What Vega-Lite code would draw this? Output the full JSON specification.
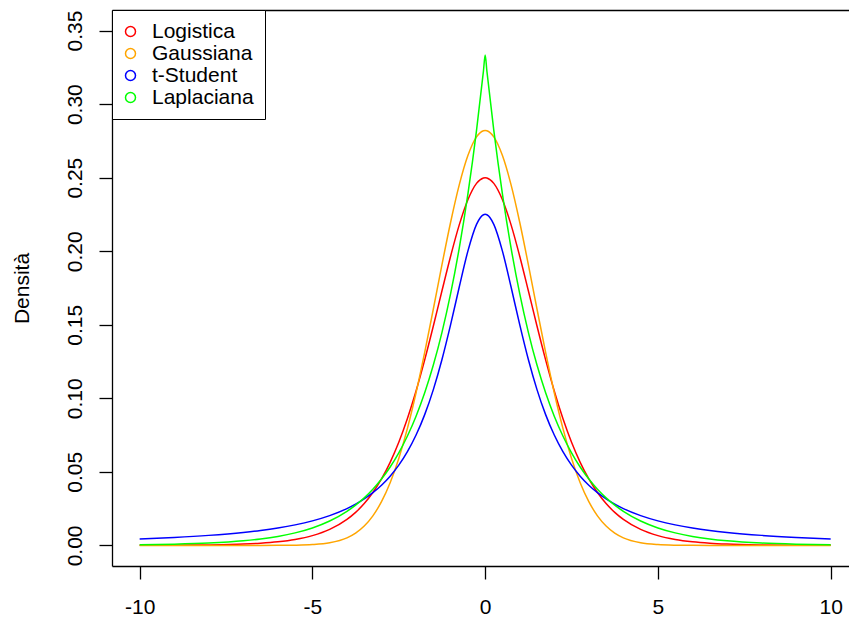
{
  "$schema": "https://vega.github.io/schema/vega-lite/v6.json",
  "autosize": "none",
  "width": 737,
  "height": 556,
  "padding": {"left": 112, "top": 10, "right": 0, "bottom": 57},
  "background": "white",
  "config": {
    "view": {"stroke": null},
    "font": "Liberation Sans",
    "axis": {"grid": false, "domainColor": "black", "domainWidth": 1.3, "tickColor": "black", "tickWidth": 1.3, "labelColor": "black", "labelFont": "Liberation Sans", "labelFontSize": 21, "labelOverlap": false, "labelBound": false, "labelFlush": false, "titleColor": "black", "titleFont": "Liberation Sans"}
  },
  "data": {"values": [
    {"x": -10, "Logistica": 0.000045, "Gaussiana": 0, "t-Student": 0.004413, "Laplaciana": 0.000424},
    {"x": -9, "Logistica": 0.000123, "Gaussiana": 0, "t-Student": 0.005424, "Laplaciana": 0.000826},
    {"x": -8, "Logistica": 0.000335, "Gaussiana": 0, "t-Student": 0.006821, "Laplaciana": 0.001609},
    {"x": -7, "Logistica": 0.000911, "Gaussiana": 0.000001, "t-Student": 0.008827, "Laplaciana": 0.003135},
    {"x": -6.5, "Logistica": 0.001501, "Gaussiana": 0.000007, "t-Student": 0.010173, "Laplaciana": 0.004375},
    {"x": -6, "Logistica": 0.002473, "Gaussiana": 0.000035, "t-Student": 0.011846, "Laplaciana": 0.006105},
    {"x": -5.5, "Logistica": 0.004054, "Gaussiana": 0.000146, "t-Student": 0.013958, "Laplaciana": 0.008520},
    {"x": -5, "Logistica": 0.006648, "Gaussiana": 0.000544, "t-Student": 0.016673, "Laplaciana": 0.011891},
    {"x": -4.5, "Logistica": 0.010866, "Gaussiana": 0.001786, "t-Student": 0.020232, "Laplaciana": 0.016596},
    {"x": -4, "Logistica": 0.017663, "Gaussiana": 0.005167, "t-Student": 0.025009, "Laplaciana": 0.023161},
    {"x": -3.75, "Logistica": 0.022450, "Gaussiana": 0.008385, "t-Student": 0.028025, "Laplaciana": 0.027362},
    {"x": -3.5, "Logistica": 0.028453, "Gaussiana": 0.013194, "t-Student": 0.031590, "Laplaciana": 0.032324},
    {"x": -3.25, "Logistica": 0.035934, "Gaussiana": 0.020118, "t-Student": 0.035834, "Laplaciana": 0.038186},
    {"x": -3, "Logistica": 0.045177, "Gaussiana": 0.029733, "t-Student": 0.040923, "Laplaciana": 0.045112},
    {"x": -2.75, "Logistica": 0.056477, "Gaussiana": 0.042590, "t-Student": 0.047075, "Laplaciana": 0.053293},
    {"x": -2.5, "Logistica": 0.070104, "Gaussiana": 0.059130, "t-Student": 0.054565, "Laplaciana": 0.062959},
    {"x": -2.25, "Logistica": 0.086258, "Gaussiana": 0.079569, "t-Student": 0.063739, "Laplaciana": 0.074377},
    {"x": -2, "Logistica": 0.104994, "Gaussiana": 0.103777, "t-Student": 0.075026, "Laplaciana": 0.087866},
    {"x": -1.75, "Logistica": 0.126129, "Gaussiana": 0.131186, "t-Student": 0.088920, "Laplaciana": 0.103801},
    {"x": -1.5, "Logistica": 0.149146, "Gaussiana": 0.160733, "t-Student": 0.105920, "Laplaciana": 0.122626},
    {"x": -1.25, "Logistica": 0.173104, "Gaussiana": 0.190875, "t-Student": 0.126360, "Laplaciana": 0.144866},
    {"x": -1, "Logistica": 0.196612, "Gaussiana": 0.219695, "t-Student": 0.150053, "Laplaciana": 0.171139},
    {"x": -0.75, "Logistica": 0.217898, "Gaussiana": 0.245088, "t-Student": 0.175671, "Laplaciana": 0.202177},
    {"x": -0.5, "Logistica": 0.235004, "Gaussiana": 0.265004, "t-Student": 0.200070, "Laplaciana": 0.238844},
    {"x": -0.25, "Logistica": 0.246134, "Gaussiana": 0.277721, "t-Student": 0.218258, "Laplaciana": 0.282161},
    {"x": -0.05, "Logistica": 0.249844, "Gaussiana": 0.281919, "t-Student": 0.224798, "Laplaciana": 0.322405},
    {"x": 0, "Logistica": 0.25, "Gaussiana": 0.282095, "t-Student": 0.225079, "Laplaciana": 0.333333},
    {"x": 0.05, "Logistica": 0.249844, "Gaussiana": 0.281919, "t-Student": 0.224798, "Laplaciana": 0.322405},
    {"x": 0.25, "Logistica": 0.246134, "Gaussiana": 0.277721, "t-Student": 0.218258, "Laplaciana": 0.282161},
    {"x": 0.5, "Logistica": 0.235004, "Gaussiana": 0.265004, "t-Student": 0.200070, "Laplaciana": 0.238844},
    {"x": 0.75, "Logistica": 0.217898, "Gaussiana": 0.245088, "t-Student": 0.175671, "Laplaciana": 0.202177},
    {"x": 1, "Logistica": 0.196612, "Gaussiana": 0.219695, "t-Student": 0.150053, "Laplaciana": 0.171139},
    {"x": 1.25, "Logistica": 0.173104, "Gaussiana": 0.190875, "t-Student": 0.126360, "Laplaciana": 0.144866},
    {"x": 1.5, "Logistica": 0.149146, "Gaussiana": 0.160733, "t-Student": 0.105920, "Laplaciana": 0.122626},
    {"x": 1.75, "Logistica": 0.126129, "Gaussiana": 0.131186, "t-Student": 0.088920, "Laplaciana": 0.103801},
    {"x": 2, "Logistica": 0.104994, "Gaussiana": 0.103777, "t-Student": 0.075026, "Laplaciana": 0.087866},
    {"x": 2.25, "Logistica": 0.086258, "Gaussiana": 0.079569, "t-Student": 0.063739, "Laplaciana": 0.074377},
    {"x": 2.5, "Logistica": 0.070104, "Gaussiana": 0.059130, "t-Student": 0.054565, "Laplaciana": 0.062959},
    {"x": 2.75, "Logistica": 0.056477, "Gaussiana": 0.042590, "t-Student": 0.047075, "Laplaciana": 0.053293},
    {"x": 3, "Logistica": 0.045177, "Gaussiana": 0.029733, "t-Student": 0.040923, "Laplaciana": 0.045112},
    {"x": 3.25, "Logistica": 0.035934, "Gaussiana": 0.020118, "t-Student": 0.035834, "Laplaciana": 0.038186},
    {"x": 3.5, "Logistica": 0.028453, "Gaussiana": 0.013194, "t-Student": 0.031590, "Laplaciana": 0.032324},
    {"x": 3.75, "Logistica": 0.022450, "Gaussiana": 0.008385, "t-Student": 0.028025, "Laplaciana": 0.027362},
    {"x": 4, "Logistica": 0.017663, "Gaussiana": 0.005167, "t-Student": 0.025009, "Laplaciana": 0.023161},
    {"x": 4.5, "Logistica": 0.010866, "Gaussiana": 0.001786, "t-Student": 0.020232, "Laplaciana": 0.016596},
    {"x": 5, "Logistica": 0.006648, "Gaussiana": 0.000544, "t-Student": 0.016673, "Laplaciana": 0.011891},
    {"x": 5.5, "Logistica": 0.004054, "Gaussiana": 0.000146, "t-Student": 0.013958, "Laplaciana": 0.008520},
    {"x": 6, "Logistica": 0.002473, "Gaussiana": 0.000035, "t-Student": 0.011846, "Laplaciana": 0.006105},
    {"x": 6.5, "Logistica": 0.001501, "Gaussiana": 0.000007, "t-Student": 0.010173, "Laplaciana": 0.004375},
    {"x": 7, "Logistica": 0.000911, "Gaussiana": 0.000001, "t-Student": 0.008827, "Laplaciana": 0.003135},
    {"x": 8, "Logistica": 0.000335, "Gaussiana": 0, "t-Student": 0.006821, "Laplaciana": 0.001609},
    {"x": 9, "Logistica": 0.000123, "Gaussiana": 0, "t-Student": 0.005424, "Laplaciana": 0.000826},
    {"x": 10, "Logistica": 0.000045, "Gaussiana": 0, "t-Student": 0.004413, "Laplaciana": 0.000424}
  ]},
  "transform": [{"fold": ["Logistica", "Gaussiana", "t-Student", "Laplaciana"], "as": ["serie", "densita"]}],
  "layer": [
    {
      "mark": {"type": "line", "strokeWidth": 1.5, "interpolate": "monotone"},
      "encoding": {
        "x": {"field": "x", "type": "quantitative", "scale": {"domain": [-10.8, 10.53], "nice": false, "zero": false},
          "axis": {"orient": "bottom", "values": [-10, -5, 0, 5, 10], "labelExpr": "'' + datum.value", "tickSize": 13, "labelPadding": 34, "labelBaseline": "alphabetic", "labelAlign": "center", "title": null}},
        "y": {"field": "densita", "type": "quantitative", "scale": {"domain": [-0.014, 0.364], "nice": false, "zero": false},
          "axis": {"values": [0, 0.05, 0.1, 0.15, 0.2, 0.25, 0.3, 0.35], "format": ".2f", "tickSize": 13, "labelAngle": 270, "labelAlign": "center", "labelBaseline": "alphabetic", "labelPadding": 18,
            "title": "Densità", "titleFontSize": 21, "titleFontWeight": "normal", "titleAngle": 270, "titleAlign": "center", "titleBaseline": "alphabetic", "titleX": -84, "titleY": 278}},
        "color": {"field": "serie", "type": "nominal",
          "scale": {"domain": ["Logistica", "Gaussiana", "t-Student", "Laplaciana"], "range": ["#FF0000", "#FFA500", "#0000FF", "#00FF00"]},
          "legend": {"title": null, "orient": "none", "legendX": 0, "legendY": 0, "strokeColor": "black", "fillColor": "white", "padding": 11, "cornerRadius": 0,
            "symbolType": "circle", "symbolSize": 100, "symbolStrokeWidth": 1.5, "symbolFillColor": "transparent", "symbolOffset": -3, "labelOffset": 11,
            "labelFont": "Liberation Sans", "labelFontSize": 21, "labelColor": "black", "rowPadding": 0}}
      }
    },
    {
      "mark": {"type": "line", "opacity": 0},
      "encoding": {
        "x": {"field": "x", "type": "quantitative", "axis": {"orient": "top", "labels": false, "ticks": false, "title": null}},
        "y": {"field": "densita", "type": "quantitative"},
        "detail": {"field": "serie"}
      }
    }
  ],
  "resolve": {"axis": {"x": "independent"}}
}
